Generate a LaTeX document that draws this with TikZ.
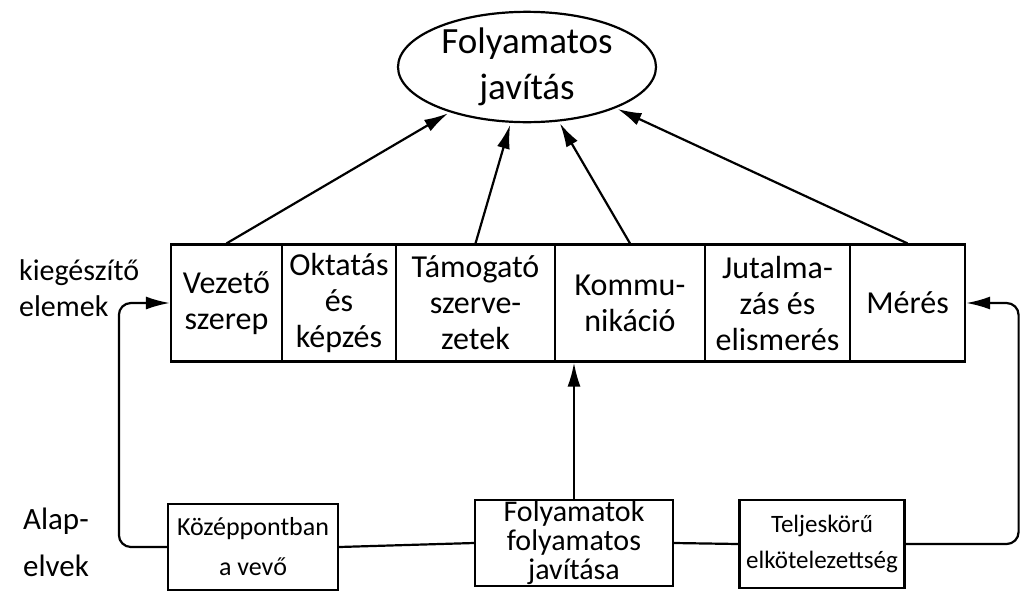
\documentclass[tikz,border=0pt]{standalone}
\usepackage{fontspec}
\setmainfont{Carlito}
\usetikzlibrary{arrows.meta,shapes.geometric,positioning}

\begin{document}
\begin{tikzpicture}[x=1pt,y=-1pt,line width=2.2pt,>={Latex[length=24pt,width=13pt]},
  elem/.style={draw,minimum height=117,inner sep=2pt,align=center,font=\fontsize{32}{36}\selectfont},
  alap/.style={draw,minimum height=86,inner sep=1pt,align=center,font=\fontsize{30}{29}\selectfont},
  cimke/.style={align=left,anchor=west,inner sep=0pt}]
  \useasboundingbox (0,0) rectangle (1027,595);

  \node[draw,ellipse,inner sep=0pt,minimum width=258,minimum height=110,align=center,font=\fontsize{37}{46}\selectfont] (cel) at (527,67) {Folyamatos\\javítás};

  % kiegeszito elemek
  \node[elem,minimum width=111] (vez) at (226.5,303) {Vezető\\szerep};
  \node[elem,minimum width=114] (okt) at (339,303) {Oktatás\\és\\képzés};
  \node[elem,minimum width=159] (tam) at (475.5,303) {Támogató\\szerve-\\zetek};
  \node[elem,minimum width=150] (kom) at (630,303) {Kommu-\\nikáció};
  \node[elem,minimum width=145] (jut) at (777.5,303) {Jutalma-\\zás és\\elismerés};
  \node[elem,minimum width=115] (meres) at (907.5,303) {Mérés};

  % alapelvek
  \node[alap,minimum width=170,font=\fontsize{26}{40}\selectfont] (kozep) at (253,547) {Középpontban\\a vevő};
  \node[alap,minimum width=198] (folyam) at (574,543) {Folyamatok\\folyamatos\\javítása};
  \node[alap,minimum width=165,minimum height=88,font=\fontsize{25}{36}\selectfont] (teljes) at (822,544) {Teljeskörű\\elkötelezettség};

  \node[cimke,font=\fontsize{30}{36}\selectfont] (kieg) at (18,288) {kiegészítő\\elemek};
  \node[cimke,font=\fontsize{31}{47}\selectfont] (alapelv) at (22,542) {Alap-\\elvek};

  \draw[->,shorten >=2pt] (vez.north) -- (cel);
  \draw[->,shorten >=2pt] (tam.north) -- (cel);
  \draw[->,shorten >=2pt] (kom.north) -- (cel);
  \draw[->,shorten >=2pt] (meres.north) -- (cel);

  \draw (kozep.east) -- (folyam.west);
  \draw (folyam.east) -- (teljes.west);
  \draw[->] (folyam.north) -- (folyam.north |- kom.south);
  \draw[->,rounded corners=12] (kozep.west) -- ++(-48,0) |- (vez.west);
  \draw[->,rounded corners=12] (teljes.east) -- ++(113,0) |- (meres.east);
\end{tikzpicture}
\end{document}
